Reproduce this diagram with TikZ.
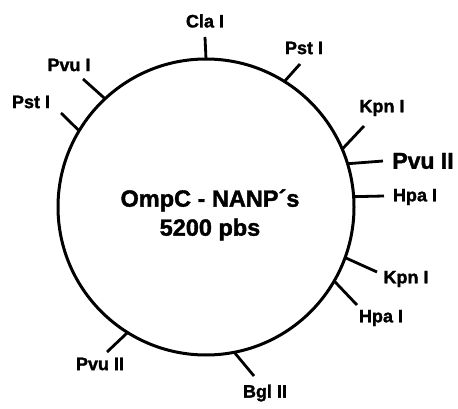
\documentclass[tikz,border=0pt]{standalone}
\usepackage{fontspec}
\setmainfont{Liberation Sans}
\newfontfamily\heavy{Liberation Sans}[BoldFeatures={FakeBold=1.6}]
\begin{document}
\begin{tikzpicture}[x=1pt,y=-1pt,
  site/.style={font=\heavy\bfseries\fontsize{18}{20}\selectfont, inner sep=0pt},
  bigsite/.style={font=\heavy\bfseries\fontsize{23}{25}\selectfont, inner sep=0pt},
  tick/.style={line width=2.8pt},
  ring/.style={draw, circle, line width=3pt, minimum size=296pt, inner sep=0pt, outer sep=0pt}]
\useasboundingbox (0,0) rectangle (458,409);

% plasmid backbone
\node[ring] (plasmid) at (206,207) {};
\node[align=center, font=\heavy\bfseries\fontsize{23.5}{29}\selectfont] (title) at (210,215)
  {OmpC - NANP´s\\5200 pbs};

% outer ends of the restriction-site ticks
\coordinate (eCla)   at (205,37);
\coordinate (ePvuA)  at (83,79);
\coordinate (ePstA)  at (61,113);
\coordinate (ePstB)  at (300,64);
\coordinate (eKpnA)  at (364,126);
\coordinate (ePvuB)  at (383,161);
\coordinate (eHpaA)  at (384,196);
\coordinate (eKpnB)  at (377,272);
\coordinate (eHpaB)  at (357,305);
\coordinate (eBgl)   at (254,376);
\coordinate (ePvuC)  at (107,352);

% ticks
\draw[tick] (plasmid.90)    -- (eCla);
\draw[tick] (plasmid.133.6) -- (ePvuA);
\draw[tick] (plasmid.149.2) -- (ePstA);
\draw[tick] (plasmid.58.8)  -- (ePstB);
\draw[tick] (plasmid.23.8)  -- (eKpnA);
\draw[tick] (plasmid.17.9)  -- (ePvuB);
\draw[tick] (plasmid.4.3)   -- (eHpaA);
\draw[tick] (plasmid.-20.2) -- (eKpnB);
\draw[tick] (plasmid.-30.3) -- (eHpaB);
\draw[tick] (plasmid.-79.8) -- (eBgl);
\draw[tick] (plasmid.-122.7) -- (ePvuC);

% site labels
\node[site] (lCla)  at (205,21)  {Cla I};
\node[site] (lPvuA) at (69,65)   {Pvu I};
\node[site] (lPstA) at (31,102)  {Pst I};
\node[site] (lPstB) at (304,48)  {Pst I};
\node[site] (lKpnA) at (382,108) {Kpn I};
\node[bigsite] (lPvuB) at (423,161) {Pvu II};
\node[site] (lHpaA) at (415,197) {Hpa I};
\node[site] (lKpnB) at (406,279) {Kpn I};
\node[site] (lHpaB) at (381,318) {Hpa I};
\node[site] (lBgl)  at (265,393) {Bgl II};
\node[site] (lPvuC) at (100,364) {Pvu II};
\end{tikzpicture}
\end{document}
